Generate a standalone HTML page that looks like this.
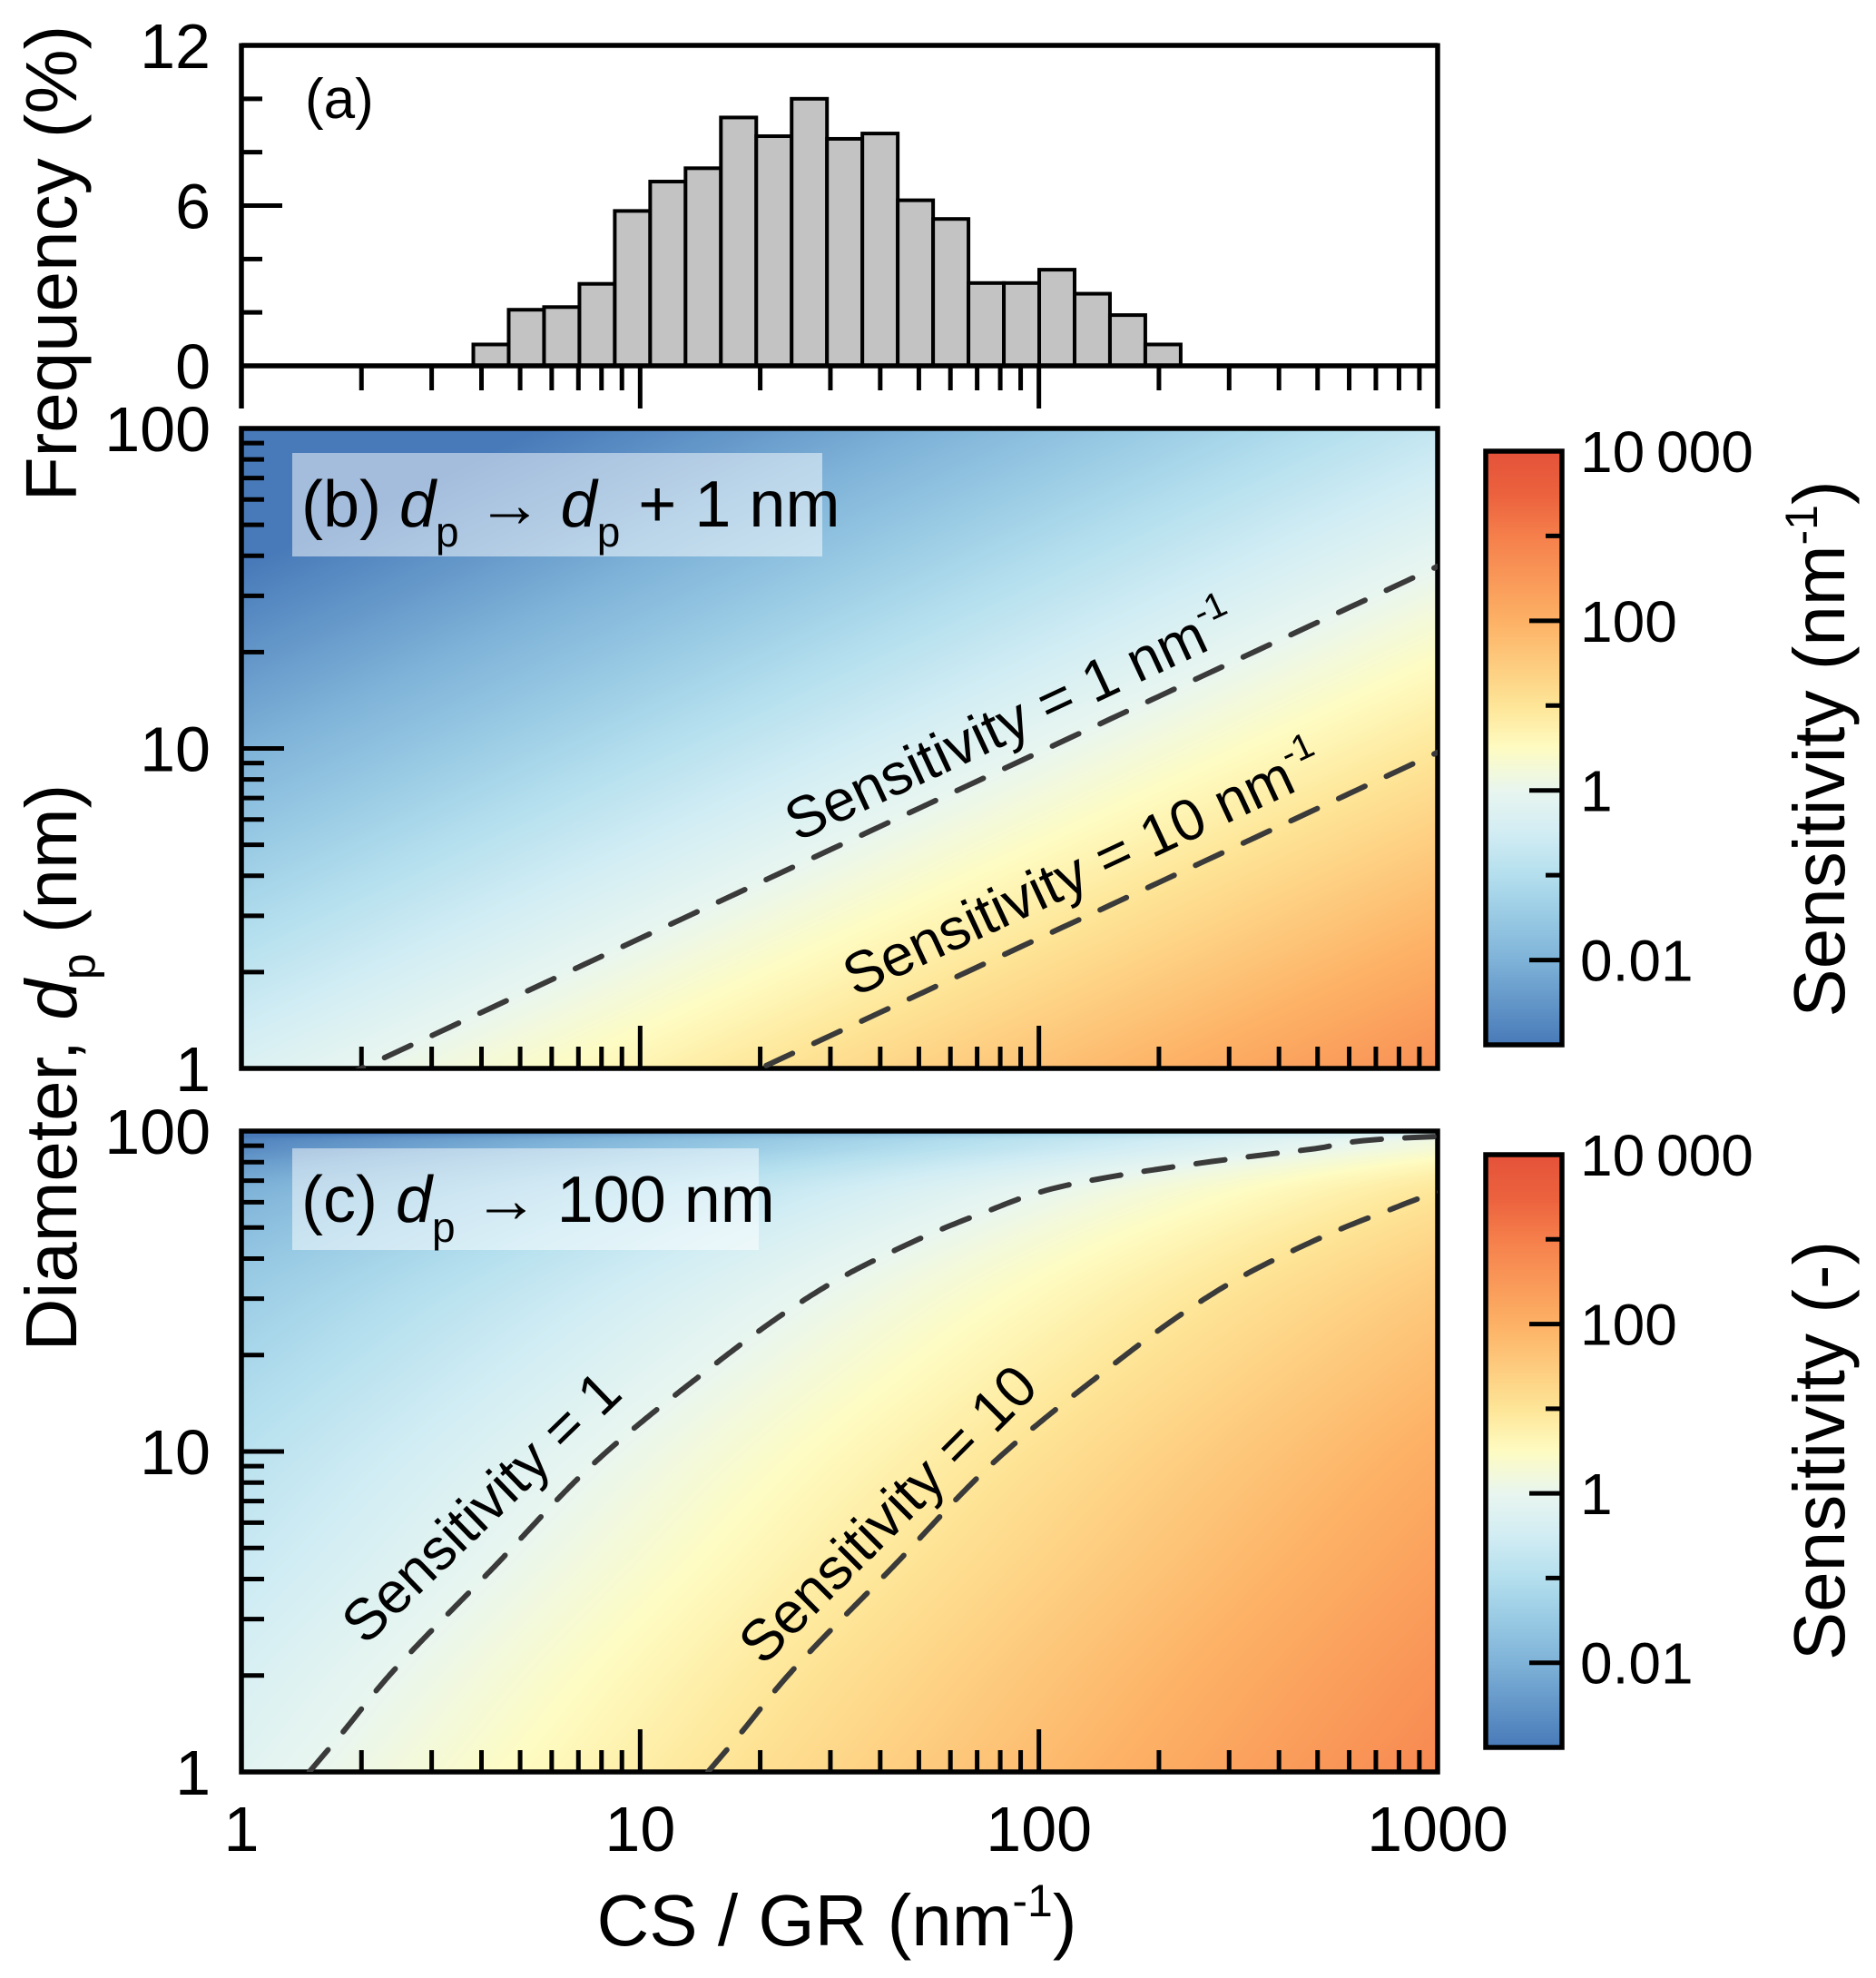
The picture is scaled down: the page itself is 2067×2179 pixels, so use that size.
<!DOCTYPE html>
<html><head><meta charset="utf-8">
<style>
html,body{margin:0;padding:0;background:#fff;}
#wrap{position:relative;width:2067px;height:2179px;overflow:hidden;font-family:"Liberation Sans",Arial,sans-serif;}
canvas{position:absolute;}
svg{position:absolute;left:0;top:0;}
</style></head>
<body>
<div id="wrap">
<canvas id="cb" width="1318" height="705" style="left:266px;top:472px"></canvas>
<canvas id="cc" width="1318" height="706" style="left:266px;top:1246px"></canvas>
<canvas id="bar1" width="84" height="654" style="left:1637px;top:497px"></canvas>
<canvas id="bar2" width="84" height="653" style="left:1637px;top:1272px"></canvas>
<svg id="svg" width="2067" height="2179" xmlns="http://www.w3.org/2000/svg"></svg>
</div>
<script>
// ---- data ----
const histFreq = [0.8,2.1,2.2,3.07,5.8,6.9,7.4,9.3,8.6,10.0,8.5,8.7,6.2,5.5,3.1,3.1,3.6,2.7,1.9,0.8];
const histStartLog = 0.5816;
const histBinLog = 0.0887;
const xTickLabels = ["1","10","100","1000"];
const xTickValues = [1,10,100,1000];
const histYTicks = [0,6,12];
const dpTicks = [1,10,100];
const cbTickValues = [10000,100,1,0.01];
const cbTickLabels = ["10\u2009000","100","1","0.01"];
// panel (b): log S = log x - bSlope*log dp + bOffset
const bSlope = [1.72];
const bOffset = [-0.301];
// panel (c): log S = log x - g(log dp) + cOffset
const gLogDp = [0,0.11,0.3,0.635,0.97,1.215,1.48,1.586,1.74,1.84,1.943,1.99,2.0];
const gVal   = [0,0.075,0.2,0.46,0.72,0.958,1.25,1.40,1.68,1.935,2.51,3.0,3.6];
const cOffset = [-0.17];
const contourLevels = [1,10];

// ---- geometry ----
const X0=266,X1=1584;
const xs=v=>X0+(Math.log10(v))*(X1-X0)/3;
const xl=l=>X0+l*(X1-X0)/3;
const A={top:50,bot:403};
const ya=v=>A.bot-(A.bot-A.top)*v/12;
const B={top:472,bot:1177};
const C={top:1246,bot:1952};
const yb=l=>B.bot-(B.bot-B.top)*l/2;
const yc=l=>C.bot-(C.bot-C.top)*l/2;

const stops=[[-3,[72,122,185]],[-2,[127,179,216]],[-1.5,[152,202,228]],[-1,[180,223,238]],[-0.5,[210,237,244]],[0,[233,246,240]],[0.5,[254,252,195]],[1,[254,230,152]],[2,[253,178,102]],[3,[246,128,76]],[3.5,[236,98,62]],[4,[229,83,58]]];
function cmap(l){
  if(l<=stops[0][0])return stops[0][1];
  for(let i=1;i<stops.length;i++){if(l<=stops[i][0]){const a=stops[i-1],b=stops[i];const t=(l-a[0])/(b[0]-a[0]);return [0,1,2].map(k=>a[1][k]+(b[1][k]-a[1][k])*t);}}
  return stops[stops.length-1][1];
}
// monotone cubic (Fritsch-Carlson) interpolation of g
const gM=(function(){
  const n=gLogDp.length,d=[],m=[];
  for(let i=0;i<n-1;i++)d.push((gVal[i+1]-gVal[i])/(gLogDp[i+1]-gLogDp[i]));
  m[0]=d[0];m[n-1]=d[n-2];
  for(let i=1;i<n-1;i++){m[i]=(d[i-1]*d[i]<=0)?0:(d[i-1]+d[i])/2;}
  for(let i=0;i<n-1;i++){if(d[i]===0){m[i]=m[i+1]=0;continue;}const a=m[i]/d[i],b=m[i+1]/d[i],s=a*a+b*b;if(s>9){const t=3/Math.sqrt(s);m[i]=t*a*d[i];m[i+1]=t*b*d[i];}}
  return m;
})();
function g(l){
  const n=gLogDp.length;
  if(l<=gLogDp[0])return gVal[0];
  if(l>=gLogDp[n-1])return gVal[n-1];
  let i=0;while(l>gLogDp[i+1])i++;
  const h=gLogDp[i+1]-gLogDp[i],t=(l-gLogDp[i])/h,t2=t*t,t3=t2*t;
  return (2*t3-3*t2+1)*gVal[i]+(t3-2*t2+t)*h*gM[i]+(-2*t3+3*t2)*gVal[i+1]+(t3-t2)*h*gM[i+1];
}
function sB(lx,ly){return lx-bSlope[0]*ly+bOffset[0];}
function sC(lx,ly){return lx-g(ly)+cOffset[0];}
function paint(id,f){
  const cv=document.getElementById(id),ctx=cv.getContext('2d');
  const W=cv.width,H=cv.height,im=ctx.createImageData(W,H);
  for(let j=0;j<H;j++){const ly=2*(H-j)/H;for(let i=0;i<W;i++){const lx=3*i/W;const c=cmap(f(lx,ly));const p=(j*W+i)*4;im.data[p]=c[0];im.data[p+1]=c[1];im.data[p+2]=c[2];im.data[p+3]=255;}}
  ctx.putImageData(im,0,0);
}
paint('cb',sB);paint('cc',sC);
function paintBar(id){
  const cv=document.getElementById(id),ctx=cv.getContext('2d');const H=cv.height;
  for(let j=0;j<H;j++){const l=4-7*j/H;const c=cmap(l);ctx.fillStyle=`rgb(${c[0]|0},${c[1]|0},${c[2]|0})`;ctx.fillRect(0,j,cv.width,1);}
}
paintBar('bar1');paintBar('bar2');

const NS='http://www.w3.org/2000/svg';
const svg=document.getElementById('svg');
function el(tag,attrs,parent){const e=document.createElementNS(NS,tag);for(const k in attrs)e.setAttribute(k,attrs[k]);(parent||svg).appendChild(e);return e;}
function line(x1,y1,x2,y2,w,name){const e=el('line',{x1,y1,x2,y2,stroke:'#000','stroke-width':w||5});

return e;}
function text(x,y,s,size,anchor,name,extra){const e=el('text',Object.assign({x,y,'font-size':size,'text-anchor':anchor||'start',fill:'#000','font-family':'Liberation Sans, Arial, sans-serif'},extra||{}));e.textContent=s;

return e;}

// ---- panel a ----
const ga=el('g',{});


histFreq.forEach((v,i)=>{
  const l0=histStartLog+i*histBinLog,l1=l0+histBinLog;
  const r=el('rect',{x:xl(l0),y:ya(v),width:xl(l1)-xl(l0),height:ya(0)-ya(v),fill:'#c3c3c3',stroke:'#000','stroke-width':4},ga);
  
  
});
line(X0,A.top,X1,A.top,5.5,'frame-a-top');
line(X0,A.top-2.5,X0,450,5.5,'frame-a-left');
line(X1,A.top-2.5,X1,450,5.5,'frame-a-right');
line(X0,A.bot,X1,A.bot,5.5,'x-axis-a');
for(let v=0;v<=12;v+=2){const maj=histYTicks.includes(v);line(X0,ya(v),X0+(maj?45:23),ya(v),5,'y-tick-a');}
histYTicks.forEach(v=>text(232,ya(v)+25,String(v),70,'end','y-tick-label-a'));
for(let d=0;d<3;d++)for(let k=1;k<=9;k++){const v=k*Math.pow(10,d);if(v<=1)continue;const x=xs(v);if(x>=X1-2)continue;line(x,A.bot,x,k===1?450:430,5,'x-tick-a');}
text(336,130,'(a)',62,'start','panel-a-label');

// ---- panels b, c frames & ticks ----
function framePanel(P,ys,name){
  el('rect',{x:X0,y:P.top,width:X1-X0,height:P.bot-P.top,fill:'none',stroke:'#000','stroke-width':5.5});
  for(let d=0;d<2;d++)for(let k=1;k<=9;k++){const l=d+Math.log10(k);if(l<=0.001)continue;const y=ys(l);line(X0,y,X0+(k===1?47:25),y,5,name+'-y-tick');}
  for(let d=0;d<3;d++)for(let k=1;k<=9;k++){const v=k*Math.pow(10,d);if(v<=1)continue;const x=xs(v);if(x>=X1-2)continue;line(x,P.bot,x,P.bot-(k===1?47:24),5,name+'-x-tick');}
  dpTicks.forEach(v=>text(232,ys(Math.log10(v))+25,String(v),70,'end',name+'-y-tick-label'));
}
framePanel(B,yb,'panel-b');framePanel(C,yc,'panel-c');

// contour lines
function pathFrom(pts){return 'M'+pts.map(p=>p[0].toFixed(1)+','+p[1].toFixed(1)).join('L');}
const clipB=el('clipPath',{id:'clipB'});el('rect',{x:X0,y:B.top,width:X1-X0,height:B.bot-B.top},clipB);
const clipC=el('clipPath',{id:'clipC'});el('rect',{x:X0,y:C.top,width:X1-X0,height:C.bot-C.top},clipC);
contourLevels.forEach(s=>{
  const ls=Math.log10(s);const pts=[];
  for(let lx=0;lx<=3.0001;lx+=0.02){const ly=(lx+bOffset[0]-ls)/bSlope[0];pts.push([xl(lx),yb(ly)]);}
  const p=el('path',{d:pathFrom(pts),fill:'none',stroke:'#3a3a3a','stroke-width':6,'stroke-dasharray':'32 26','stroke-linecap':'round','clip-path':'url(#clipB)'});
  
  
  const pts2=[];
  for(let ly=0;ly<=1.999;ly+=0.005){const lx=ls-cOffset[0]+g(ly);pts2.push([xl(lx),yc(ly)]);}
  const p2=el('path',{d:pathFrom(pts2),fill:'none',stroke:'#3a3a3a','stroke-width':6,'stroke-dasharray':'32 26','stroke-linecap':'round','clip-path':'url(#clipC)'});
  
  
});

// panel label boxes
const bb=el('rect',{x:322,y:499,width:584,height:114,fill:'#ffffff','fill-opacity':0.5});

const bc=el('rect',{x:322,y:1265,width:514,height:112,fill:'#ffffff','fill-opacity':0.5});

function richLabel(x,y,size,parts,name){
  const t=el('text',{x,y,'font-size':size,fill:'#000','font-family':'Liberation Sans, Arial, sans-serif'});
  
  
  parts.forEach(p=>{const ts=el('tspan',p.a||{},t);ts.textContent=p.t;});
  return t;
}
richLabel(332,580,72,[{t:'(b) '},{t:'d',a:{'font-style':'italic'}},{t:'p',a:{'font-size':46,dy:22}},{t:' \u2192 ',a:{dy:-22}},{t:'d',a:{'font-style':'italic'}},{t:'p',a:{'font-size':46,dy:22}},{t:' + 1 nm',a:{dy:-22}}],'panel-b-label');
richLabel(332,1346,72,[{t:'(c) '},{t:'d',a:{'font-style':'italic'}},{t:'p',a:{'font-size':46,dy:22}},{t:' \u2192 100 nm',a:{dy:-22}}],'panel-c-label');

// contour labels
function rotLabel(cx,cy,ang,parts,name){
  const gg=el('g',{transform:`translate(${cx},${cy}) rotate(${ang})`});
  
  
  const t=el('text',{x:0,y:22,'font-size':64,'text-anchor':'middle',fill:'#000','font-family':'Liberation Sans, Arial, sans-serif'},gg);
  parts.forEach(p=>{const ts=el('tspan',p.a||{},t);ts.textContent=p.t;});
}
rotLabel(1113,794,-25,[{t:'Sensitivity = 1 nm'},{t:'-1',a:{'font-size':40,dy:-28}}],'contour-label-b-1');
rotLabel(1193,957,-25,[{t:'Sensitivity = 10 nm'},{t:'-1',a:{'font-size':40,dy:-28}}],'contour-label-b-10');
rotLabel(530,1660,-44,[{t:'Sensitivity = 1'}],'contour-label-c-1');
rotLabel(978,1668,-45,[{t:'Sensitivity = 10'}],'contour-label-c-10');

// x tick labels
xTickValues.forEach((v,i)=>text(xs(v),2039,xTickLabels[i],70,'middle','x-tick-label'));

// colorbars
function colorbar(top,bot,name){
  el('rect',{x:1637,y:top,width:84,height:bot-top,fill:'none',stroke:'#000','stroke-width':5.5});
  const cy=l=>top+(4-l)*(bot-top)/7;
  for(let l=-2;l<=3;l++){const maj=(l%2===0);line(1721,cy(l),1721-(maj?36:18),cy(l),5,name+'-tick');}
  cbTickValues.forEach((v,i)=>text(1741,cy(Math.log10(v))+23,cbTickLabels[i],64,'start',name+'-tick-label'));
}
colorbar(497,1151,'colorbar-b');colorbar(1272,1925,'colorbar-c');

// axis titles
function vtitle(cx,cy,parts,name){
  const t=el('text',{x:0,y:0,'font-size':80,'text-anchor':'middle',fill:'#000',transform:`translate(${cx},${cy}) rotate(-90)`,'font-family':'Liberation Sans, Arial, sans-serif'});
  
  
  parts.forEach(p=>{const ts=el('tspan',p.a||{},t);ts.textContent=p.t;});
}
vtitle(84,290,[{t:'Frequency (%)'}],'y-axis-title-a');
vtitle(84,1176,[{t:'Diameter, '},{t:'d',a:{'font-style':'italic'}},{t:'p',a:{'font-size':52,dy:20}},{t:' (nm)',a:{dy:-20}}],'y-axis-title-diameter');
vtitle(2032,825,[{t:'Sensitivity (nm'},{t:'-1',a:{'font-size':50,dy:-30}},{t:')',a:{dy:30}}],'colorbar-b-title');
vtitle(2032,1598,[{t:'Sensitivity (-)'}],'colorbar-c-title');
const xt=el('text',{x:922,y:2143,'font-size':80,'text-anchor':'middle',fill:'#000','font-family':'Liberation Sans, Arial, sans-serif'});


[{t:'CS / GR (nm'},{t:'-1',a:{'font-size':50,dy:-32}},{t:')',a:{dy:32}}].forEach(p=>{const ts=el('tspan',p.a||{},xt);ts.textContent=p.t;});
</script>
</body></html>
